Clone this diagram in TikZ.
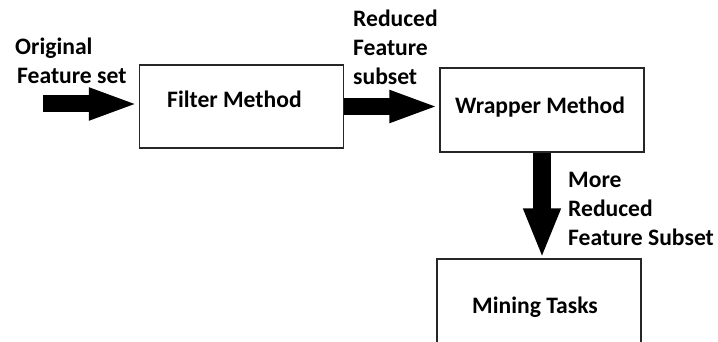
\documentclass[tikz,border=0pt]{standalone}
\usepackage{fontspec}
\setmainfont{Carlito}
\usetikzlibrary{arrows.meta}
\begin{document}
\begin{tikzpicture}[x=1pt,y=-1pt,
  box/.style={draw=black!85, line width=1.3pt, inner sep=0pt, minimum width=204pt},
  lbl/.style={font=\fontsize{23.6}{28}\selectfont\bfseries, inner sep=0pt, anchor=base west},
  fat/.style={line width=17pt, -{Triangle[length=50pt,width=29pt]}}]
\useasboundingbox (0,0) rectangle (718,342);
\clip (0,0) rectangle (718,342);
% boxes
\node[box, minimum height=83pt] (filter) at (241.5,106.5) {};
\node[box, minimum height=84pt] (wrapper) at (542,110) {};
\node[box, minimum height=96pt] (mining) at (539,307) {};
% box texts
\node[lbl] (ftext) at (167,108) {Filter Method};
\node[lbl] (wtext) at (455,114) {Wrapper Method};
\node[lbl] (mtext) at (472,313) {Mining Tasks};
% labels
\node[lbl] (o1) at (15,55) {Original};
\node[lbl] (o2) at (17,84) {Feature set};
\node[lbl] (r1) at (353,27) {Reduced};
\node[lbl] (r2) at (353,56) {Feature};
\node[lbl] (r3) at (353,85) {subset};
\node[lbl] (m1) at (568,188) {More};
\node[lbl] (m2) at (568,217) {Reduced};
\node[lbl] (m3) at (568,245) {Feature Subset};
% arrows
\coordinate (start) at (43,104);
\draw[fat] (start) -- (start -| filter.west);
\draw[fat] (filter.east) -- (filter.east -| wrapper.west);
\draw[line width=18pt, -{Triangle[length=50pt,width=34pt]}] (wrapper.south) -- (wrapper.south |- mining.north);
\end{tikzpicture}
\end{document}
